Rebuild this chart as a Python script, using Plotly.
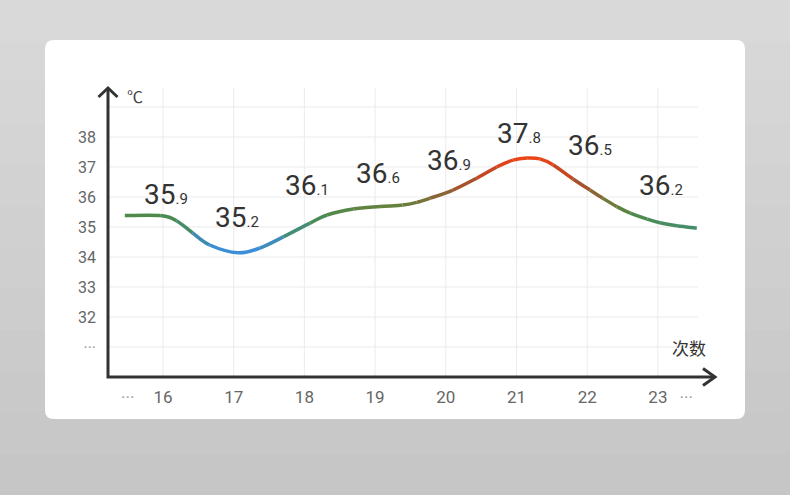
import plotly.graph_objects as go

# ---------------- data ----------------
categories = [16, 17, 18, 19, 20, 21, 22, 23]
temps = [35.9, 35.2, 36.1, 36.6, 36.9, 37.8, 36.5, 36.2]
# vertical anchor (in °C units) of each value label
label_y = [36.08, 35.33, 36.37, 36.77, 37.23, 38.10, 37.73, 36.38]

# smooth trend curve
curve_x = [15.46, 15.96, 16.19, 16.42, 16.66, 17.06, 17.37, 17.70, 18.08, 18.32,
           18.69, 19.07, 19.39, 19.59, 19.78, 20.10, 20.44, 20.72, 20.95, 21.15,
           21.33, 21.52, 21.80, 22.04, 22.22, 22.42, 22.61, 22.85, 23.03, 23.27, 23.55]
curve_y = [35.38, 35.38, 35.21, 34.80, 34.40, 34.14, 34.30, 34.67, 35.13, 35.40,
           35.60, 35.68, 35.73, 35.82, 35.96, 36.23, 36.63, 37.00, 37.23, 37.30,
           37.27, 37.07, 36.60, 36.23, 35.96, 35.68, 35.46, 35.26, 35.14, 35.04, 34.96]

y_tickvals = [31, 32, 33, 34, 35, 36, 37, 38]
y_ticktext = ["<span style='color:#9a9a9a'>···</span>", "32", "33", "34", "35", "36", "37", "38"]
x_tickvals = [15.5, 16, 17, 18, 19, 20, 21, 22, 23, 23.4]
x_ticktext = ["<span style='color:#9a9a9a'>···</span>", "16", "17", "18", "19", "20", "21", "22", "23",
              "<span style='color:#9a9a9a'>···</span>"]
y_grid = [31, 32, 33, 34, 35, 36, 37, 38, 39]

# ---------------- geometry / style ----------------
FIG_W, FIG_H = 790, 495
L, R, T, B = 108, 75, 88, 118
PW, PH = FIG_W - L - R, FIG_H - T - B
X_RANGE = [15.222, 23.808]
Y_RANGE = [30.0, 39.633]
GRID_X_END = 23.57


def pxx(px):
    return (px - L) / PW


def pxy(py):
    return (FIG_H - B - py) / PH


def dpx(d):
    return d / PW


def dpy(d):
    return d / PH


color_stops = [
    (34.10, (58, 143, 230)),
    (34.60, (63, 139, 176)),
    (35.00, (71, 140, 106)),
    (35.40, (77, 138, 74)),
    (35.70, (102, 128, 62)),
    (36.10, (138, 100, 52)),
    (36.60, (180, 74, 40)),
    (37.00, (216, 68, 30)),
    (37.30, (236, 69, 22)),
]


def value_color(v):
    if v <= color_stops[0][0]:
        c = color_stops[0][1]
    elif v >= color_stops[-1][0]:
        c = color_stops[-1][1]
    else:
        for (v0, c0), (v1, c1) in zip(color_stops[:-1], color_stops[1:]):
            if v0 <= v <= v1:
                t = (v - v0) / (v1 - v0)
                c = tuple(round(a + (b - a) * t) for a, b in zip(c0, c1))
                break
    return "rgb(%d,%d,%d)" % c


fig = go.Figure()
# invisible trace carrying the curve points (keeps axes bound to the data)
fig.add_trace(go.Scatter(x=curve_x, y=curve_y, mode="lines", line=dict(width=0),
                         opacity=0, hoverinfo="skip", showlegend=False))

shapes = []
# background bands (soft grey gradient)
bands = 12
for k in range(bands):
    g = round(217 - (217 - 198) * k / (bands - 1))
    shapes.append(dict(type="rect", xref="paper", yref="paper", layer="below",
                       x0=pxx(0), x1=pxx(FIG_W), y0=pxy(FIG_H * (k + 1) / bands + 1),
                       y1=pxy(FIG_H * k / bands), line=dict(width=0),
                       fillcolor="rgb(%d,%d,%d)" % (g, g, g)))
# white rounded card
cx0, cy0, cx1, cy1, rr = 45, 40, 745, 419, 9
card = ("M {a},{b} L {c},{b} Q {x1},{b} {x1},{d} L {x1},{e} Q {x1},{y1} {c},{y1} "
        "L {a},{y1} Q {x0},{y1} {x0},{e} L {x0},{d} Q {x0},{b} {a},{b} Z").format(
    a=pxx(cx0 + rr), c=pxx(cx1 - rr), b=pxy(cy0), d=pxy(cy0 + rr), e=pxy(cy1 - rr),
    x0=pxx(cx0), x1=pxx(cx1), y1=pxy(cy1))
shapes.append(dict(type="path", xref="paper", yref="paper", layer="below", path=card,
                   fillcolor="white", line=dict(width=0)))

# grid
for gy in y_grid:
    shapes.append(dict(type="line", xref="x", yref="y", layer="below",
                       x0=X_RANGE[0], x1=GRID_X_END, y0=gy, y1=gy,
                       line=dict(color="#ebebeb", width=1)))
for gx in categories:
    shapes.append(dict(type="line", xref="x", yref="y", layer="below",
                       x0=gx, x1=gx, y0=Y_RANGE[0], y1=Y_RANGE[1],
                       line=dict(color="#ebebeb", width=1)))

# gradient trend curve: Catmull-Rom cubic pieces in data coordinates, each its own colour
n = len(curve_x)
for i in range(n - 1):
    p0 = (curve_x[max(i - 1, 0)], curve_y[max(i - 1, 0)])
    p1 = (curve_x[i], curve_y[i])
    p2 = (curve_x[i + 1], curve_y[i + 1])
    p3 = (curve_x[min(i + 2, n - 1)], curve_y[min(i + 2, n - 1)])
    c1 = (p1[0] + (p2[0] - p0[0]) / 6, p1[1] + (p2[1] - p0[1]) / 6)
    c2 = (p2[0] - (p3[0] - p1[0]) / 6, p2[1] - (p3[1] - p1[1]) / 6)
    path = "M %.4f,%.4f C %.4f,%.4f %.4f,%.4f %.4f,%.4f" % (p1 + c1 + c2 + p2)
    col = value_color((p1[1] + p2[1]) / 2)
    shapes.append(dict(type="path", xref="x", yref="y", layer="above", path=path,
                       line=dict(color=col, width=3.5)))

# axes with open arrow heads
axis_col = "#333333"
shapes.append(dict(type="path", xref="paper", yref="paper", layer="above",
                   path="M 0,{t} L 0,0 L 1,0".format(t=1 - dpy(1)),
                   line=dict(color=axis_col, width=3)))
shapes.append(dict(type="path", xref="paper", yref="paper", layer="above",
                   path="M {a},{b} L 1,0 L {a},{c}".format(a=1 - dpx(12), b=dpy(8.5), c=-dpy(8.5)),
                   line=dict(color=axis_col, width=3)))
shapes.append(dict(type="path", xref="paper", yref="paper", layer="above",
                   path="M {a},{b} L 0,1 L {c},{b}".format(a=-dpx(9.5), b=1 - dpy(9), c=dpx(9.5)),
                   line=dict(color=axis_col, width=3)))

annotations = []
for cat, v, ly in zip(categories, temps, label_y):
    whole, dec = ("%.1f" % v).split(".")
    annotations.append(dict(
        x=cat, y=ly, xref="x", yref="y", xshift=3, showarrow=False,
        xanchor="center", yanchor="middle",
        text="%s<span style='font-size:15px'>.%s</span>" % (whole, dec),
        font=dict(family="Roboto, DejaVu Sans", size=28, color="#333333")))

annotations.append(dict(x=pxx(135), y=pxy(96), xref="paper", yref="paper", showarrow=False,
                        xanchor="center", yanchor="middle",
                        text="℃", font=dict(family="Noto Sans CJK SC", size=16, color="#444444")))
annotations.append(dict(x=pxx(689), y=pxy(347), xref="paper", yref="paper", showarrow=False,
                        xanchor="center", yanchor="middle",
                        text="次数", font=dict(family="Noto Sans CJK SC", size=17, color="#333333")))

fig.update_layout(
    width=FIG_W, height=FIG_H,
    margin=dict(l=L, r=R, t=T, b=B, pad=0),
    paper_bgcolor="rgb(208,208,208)", plot_bgcolor="rgba(0,0,0,0)",
    shapes=shapes, annotations=annotations, showlegend=False,
    xaxis=dict(range=X_RANGE, showgrid=False, zeroline=False, showline=False, ticks="",
               tickvals=x_tickvals, ticktext=x_ticktext, ticklabelstandoff=8,
               tickfont=dict(family="Roboto", size=17, color="#666666"), fixedrange=True),
    yaxis=dict(range=Y_RANGE, showgrid=False, zeroline=False, showline=False, ticks="",
               tickvals=y_tickvals, ticktext=y_ticktext, ticklabelstandoff=11,
               tickfont=dict(family="Roboto", size=16, color="#666666"), fixedrange=True),
)

fig.write_html("out.html", config={"displayModeBar": False},
               post_script="document.body.style.margin='0';document.body.style.padding='0';")
